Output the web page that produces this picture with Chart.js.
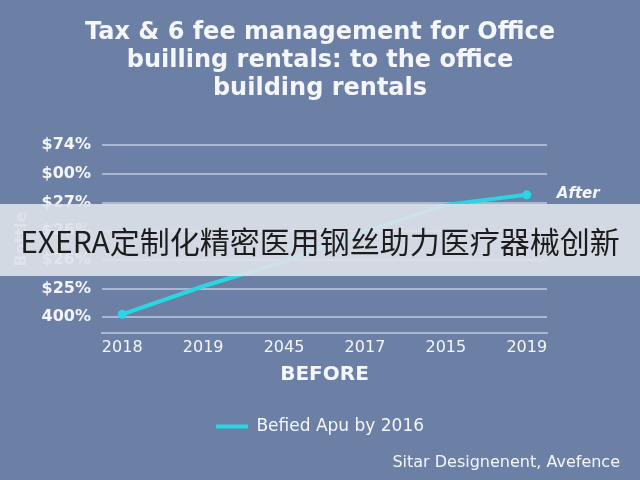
<!DOCTYPE html>
<html>
<head>
<meta charset="utf-8">
<script src="https://cdn.jsdelivr.net/npm/chart.js@4/dist/chart.umd.min.js"></script>
<style>
  html, body { margin: 0; padding: 0; background: #6c80a6; }
  #wrap { position: relative; width: 640px; height: 480px; overflow: hidden; }
  #banner {
    position: absolute; left: 0; top: 204px; width: 640px; height: 72px;
    background: rgba(222, 226, 234, 0.9);
    display: flex; align-items: center; justify-content: center;
    font-family: "Noto Sans CJK SC", sans-serif; font-size: 30px; color: #1c1c1c;
    white-space: nowrap;
  }
</style>
</head>
<body>
<div id="wrap">
  <canvas id="c" width="640" height="480"></canvas>
  <div id="banner">EXERA定制化精密医用钢丝助力医疗器械创新</div>
</div>
<script>
const titleLines = ['Tax & 6 fee management for Office', 'builling rentals: to the office', 'building rentals'];
const categories = ['2018', '2019', '2045', '2017', '2015', '2019'];
const seriesValues = [0.1, 1.08, 1.94, 2.99, 3.92, 4.27];
const yTickLabels = ['400%', '$25%', '$26%', '$26%', '$27%', '$00%', '$74%'];
const seriesName = 'Befied Apu by 2016';
const endLabel = 'After';
const xTitle = 'BEFORE';
const yTitle = 'Bottle';
const footerText = 'Sitar Designenent, Avefence';

const cyan = '#2ad6e4';
const white = '#f4f6fa';
const gridColor = 'rgba(190, 202, 226, 0.75)';
const FONT = '"DejaVu Sans", sans-serif';

const extrasPlugin = {
  id: 'extras',
  afterDatasetsDraw(chart) {
    const meta = chart.getDatasetMeta(0);
    const pt = meta.data[meta.data.length - 1];
    const ctx = chart.ctx;
    ctx.save();
    ctx.font = 'italic bold 15px ' + FONT;
    ctx.fillStyle = white;
    ctx.textAlign = 'left';
    ctx.textBaseline = 'middle';
    ctx.fillText(endLabel, pt.x + 30, pt.y - 1);
    ctx.font = '16px ' + FONT;
    ctx.textAlign = 'right';
    ctx.fillText(footerText, 620, 463);
    ctx.restore();
  }
};

new Chart(document.getElementById('c'), {
  type: 'line',
  data: {
    datasets: [{
      label: seriesName,
      data: seriesValues.map((v, i) => ({ x: i, y: v })),
      borderColor: cyan,
      backgroundColor: cyan,
      borderWidth: 4,
      pointRadius: [4.5, 0, 0, 0, 0, 4.5],
      pointBackgroundColor: cyan,
      pointBorderWidth: 0,
      tension: 0
    }]
  },
  options: {
    responsive: false,
    animation: false,
    layout: { padding: { left: 0, right: 0, top: 0, bottom: 35 } },
    plugins: {
      title: {
        display: true,
        text: titleLines,
        color: white,
        font: { family: FONT, size: 24, weight: 'bold', lineHeight: 1.17 },
        padding: { top: 19, bottom: 42 }
      },
      legend: {
        position: 'bottom',
        labels: {
          color: white,
          font: { family: FONT, size: 17 },
          boxWidth: 32,
          boxHeight: 4,
          padding: 10,
          generateLabels(chart) {
            const items = Chart.defaults.plugins.legend.labels.generateLabels(chart);
            items.forEach(it => { it.lineWidth = 0; it.strokeStyle = 'rgba(0,0,0,0)'; });
            return items;
          }
        }
      },
      tooltip: { enabled: false }
    },
    scales: {
      x: {
        type: 'linear',
        min: -0.25,
        max: 5.25,
        afterBuildTicks(scale) { scale.ticks = categories.map((c, i) => ({ value: i })); },
        afterFit(scale) { scale.height = 75; },
        ticks: {
          color: white,
          font: { family: FONT, size: 16 },
          padding: 5,
          maxRotation: 0,
          callback: (v) => categories[v]
        },
        grid: { display: false, drawTicks: false },
        border: { display: true, color: gridColor, width: 2 },
        title: {
          display: true,
          text: xTitle,
          color: white,
          font: { family: FONT, size: 20, weight: 'bold' },
          padding: { top: 6, bottom: 21 }
        }
      },
      y: {
        type: 'linear',
        min: -0.55,
        max: 6,
        afterBuildTicks(scale) { scale.ticks = yTickLabels.map((l, i) => ({ value: i })); },
        afterFit(scale) { scale.width = 102; },
        ticks: {
          color: white,
          font: { family: FONT, size: 16, weight: 'bold' },
          padding: 11,
          callback: (v) => yTickLabels[v]
        },
        grid: { color: gridColor, lineWidth: 2, drawTicks: false },
        border: { display: false },
        title: {
          display: true,
          text: yTitle,
          color: 'rgba(244,246,250,0.85)',
          font: { family: FONT, size: 16, weight: 'bold' },
          padding: { top: 12, bottom: 0 }
        }
      },
      yR: {
        type: 'linear',
        position: 'right',
        display: true,
        afterFit(scale) { scale.width = 93; },
        ticks: { display: false },
        grid: { display: false, drawTicks: false },
        border: { display: false }
      }
    }
  },
  plugins: [extrasPlugin]
});
</script>
</body>
</html>
